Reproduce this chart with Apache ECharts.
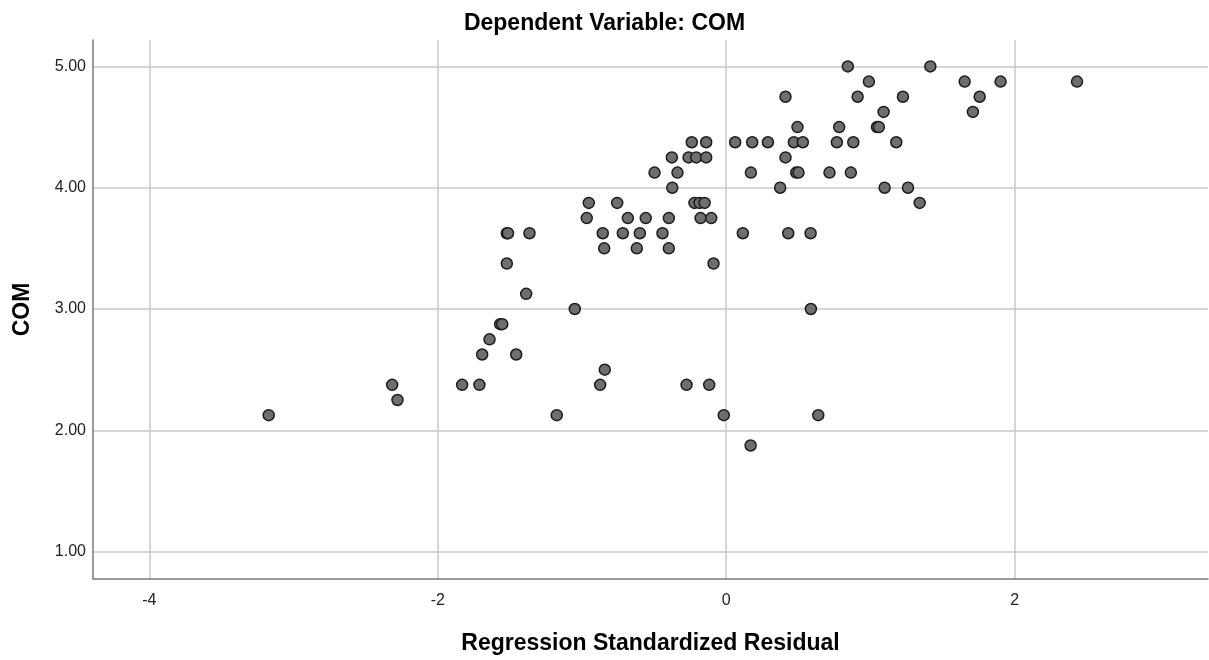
<!DOCTYPE html>
<html>
<head>
<meta charset="utf-8">
<script src="https://cdn.jsdelivr.net/npm/echarts@6/dist/echarts.min.js"></script>
<style>
html,body{margin:0;padding:0;background:#fff;}
#chart{width:1209px;height:660px;}
</style>
</head>
<body>
<div id="chart"></div>
<script>
// Regression standardized residual (x) and COM (y), grouped by COM level
const resid = [
  0.843, 1.415,
  0.989, 1.653, 1.902, 2.432,
  0.411, 0.911, 1.225, 1.757,
  1.091, 1.710,
  0.494, 0.783, 1.045, 1.058,
  -0.239, -0.139, 0.062, 0.180, 0.289, 0.469, 0.531, 0.767, 0.881, 1.179,
  -0.377, -0.261, -0.208, -0.139, 0.411,
  -0.497, -0.338, 0.171, 0.485, 0.501, 0.716, 0.864,
  -0.374, 0.374, 1.098, 1.260,
  -0.953, -0.756, -0.220, -0.185, -0.150, 1.341,
  -0.967, -0.682, -0.558, -0.398, -0.178, -0.104,
  -1.521, -1.513, -1.364, -0.856, -0.717, -0.599, -0.442, 0.115, 0.430, 0.585,
  -0.846, -0.620, -0.398,
  -1.521, -0.088,
  -1.387,
  -1.050, 0.587,
  -1.567, -1.553,
  -1.641,
  -1.692, -1.456,
  -0.842,
  -2.316, -1.831, -1.711, -0.874, -0.275, -0.118,
  -2.279,
  -3.172, -1.175, -0.017, 0.638,
  0.169
];
const com = [
  5.000, 5.000,
  4.875, 4.875, 4.875, 4.875,
  4.750, 4.750, 4.750, 4.750,
  4.625, 4.625,
  4.500, 4.500, 4.500, 4.500,
  4.375, 4.375, 4.375, 4.375, 4.375, 4.375, 4.375, 4.375, 4.375, 4.375,
  4.250, 4.250, 4.250, 4.250, 4.250,
  4.125, 4.125, 4.125, 4.125, 4.125, 4.125, 4.125,
  4.000, 4.000, 4.000, 4.000,
  3.875, 3.875, 3.875, 3.875, 3.875, 3.875,
  3.750, 3.750, 3.750, 3.750, 3.750, 3.750,
  3.625, 3.625, 3.625, 3.625, 3.625, 3.625, 3.625, 3.625, 3.625, 3.625,
  3.500, 3.500, 3.500,
  3.375, 3.375,
  3.125,
  3.000, 3.000,
  2.875, 2.875,
  2.750,
  2.625, 2.625,
  2.500,
  2.375, 2.375, 2.375, 2.375, 2.375, 2.375,
  2.250,
  2.125, 2.125, 2.125, 2.125,
  1.875
];
const xTicks = [-4, -2, 0, 2];
const yTicks = [1, 2, 3, 4, 5];
const titleText = 'Dependent Variable: COM';
const xName = 'Regression Standardized Residual';
const yName = 'COM';

const points = resid.map((x, i) => [x, com[i]]);
const FONT = '"Liberation Sans", Arial, sans-serif';

const chart = echarts.init(document.getElementById('chart'), null, {renderer: 'canvas'});
chart.setOption({
  backgroundColor: '#ffffff',
  animation: false,
  title: {
    text: titleText,
    left: 'center',
    top: 12,
    padding: 0,
    textStyle: {fontFamily: FONT, fontSize: 23, fontWeight: 'bold', color: '#000'}
  },
  grid: {left: 93, right: 1, top: 40, bottom: 76, containLabel: false},
  xAxis: {
    type: 'value',
    min: -4.39, max: 3.34,
    name: xName,
    nameLocation: 'middle',
    nameGap: 53,
    nameTextStyle: {fontFamily: FONT, fontSize: 23, fontWeight: 'bold', color: '#000'},
    axisLine: {show: true, onZero: false, lineStyle: {color: '#7a7a7a', width: 1.5}},
    axisTick: {show: false, customValues: xTicks},
    axisLabel: {
      customValues: xTicks,
      margin: 14, fontFamily: FONT, fontSize: 16, color: '#222',
      formatter: v => String(v)
    },
    splitLine: {show: true, lineStyle: {color: '#c8c8c8', width: 1.5}}
  },
  yAxis: {
    type: 'value',
    min: 0.774, max: 5.218,
    name: yName,
    nameLocation: 'middle',
    nameGap: 59,
    nameRotate: 90,
    nameTextStyle: {fontFamily: FONT, fontSize: 23, fontWeight: 'bold', color: '#000'},
    axisLine: {show: true, onZero: false, lineStyle: {color: '#7a7a7a', width: 1.5}},
    axisTick: {show: false, customValues: yTicks},
    axisLabel: {
      customValues: yTicks,
      margin: 7, fontFamily: FONT, fontSize: 16, color: '#222',
      formatter: v => v.toFixed(2)
    },
    splitLine: {show: true, lineStyle: {color: '#c8c8c8', width: 1.5}}
  },
  series: [{
    type: 'scatter',
    data: points,
    symbol: 'circle',
    symbolSize: 11,
    itemStyle: {color: '#6e6e6e', borderColor: '#1c1c1c', borderWidth: 1.5, opacity: 1}
  }]
});
</script>
</body>
</html>
